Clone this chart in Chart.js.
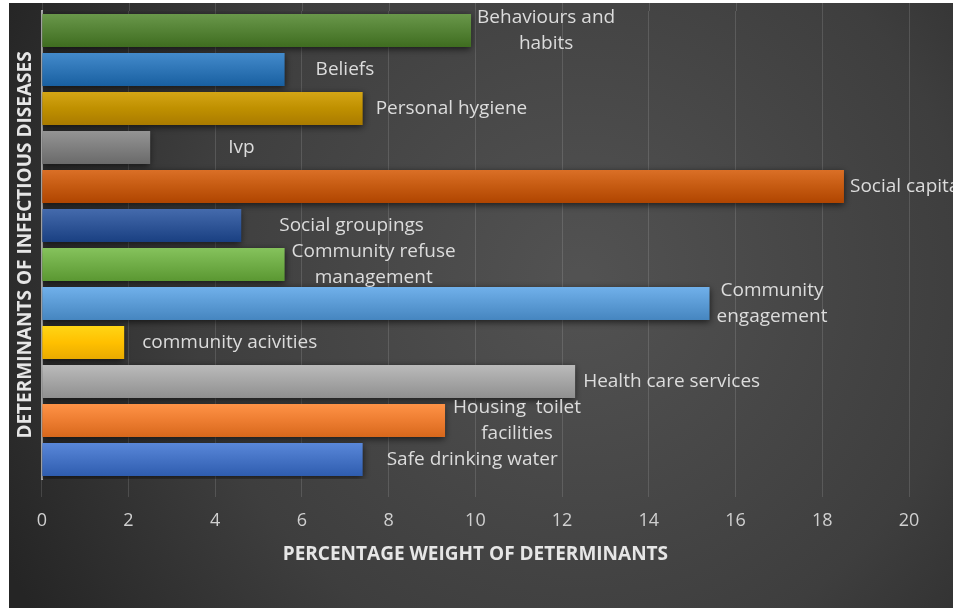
<!DOCTYPE html>
<html>
<head>
<meta charset="utf-8">
<script src="https://cdn.jsdelivr.net/npm/chart.js@4.4.1/dist/chart.umd.min.js"></script>
<style>
  html, body { margin: 0; padding: 0; background: #fff; }
</style>
</head>
<body>
<canvas id="chart" width="953" height="615"></canvas>
<script>
// determinants, top to bottom as in the figure
const determinants = [
  ['Behaviours and', 'habits'],
  'Beliefs',
  'Personal hygiene',
  'Ivp',
  'Social capital',
  'Social groupings',
  ['Community refuse', 'management'],
  ['Community', 'engagement'],
  'community acivities',
  'Health care services',
  ['Housing  toilet', 'facilities'],
  'Safe drinking water'
];
const weights = [9.9, 5.6, 7.4, 2.5, 18.5, 4.6, 5.6, 15.4, 1.9, 12.3, 9.3, 7.4];
const xTickValues = [0, 2, 4, 6, 8, 10, 12, 14, 16, 18, 20];

const barColors = [
  '#548235', '#2e75b6', '#bf9000', '#7f7f7f', '#c55a11', '#2f5597',
  '#70ad47', '#5b9bd5', '#ffc000', '#a5a5a5', '#ed7d31', '#4472c4'
];
// gap between bar end and its label (labels were placed by hand in the original)
const labelGap = [6, 31, 13, 78, 6, 38, 7, 7, 18, 8, 8, 24];

const FONT = "'Open Sans', 'DejaVu Sans', sans-serif";

function shade(hex, amt) {
  const n = parseInt(hex.slice(1), 16);
  const f = c => Math.max(0, Math.min(255, Math.round(c + amt)));
  return `rgb(${f(n >> 16)},${f((n >> 8) & 255)},${f(n & 255)})`;
}

const backdrop = {
  id: 'backdrop',
  beforeDraw(chart) {
    const { ctx, width, height } = chart;
    ctx.save();
    ctx.fillStyle = '#ffffff';
    ctx.fillRect(0, 0, width, height);
    const g = ctx.createRadialGradient(580, 280, 10, 580, 280, 640);
    g.addColorStop(0, '#525252');
    g.addColorStop(0.6, '#3e3e3e');
    g.addColorStop(1, '#252525');
    ctx.fillStyle = g;
    ctx.fillRect(9, 3, width - 9, 605);
    ctx.restore();
  },
  beforeDatasetsDraw(chart) {
    // grid lines run a little above the plot area
    const { ctx, chartArea, scales } = chart;
    ctx.save();
    ctx.strokeStyle = 'rgba(255,255,255,0.13)';
    ctx.lineWidth = 1;
    xTickValues.forEach(v => {
      const x = Math.round(scales.x.getPixelForValue(v)) + 0.5;
      ctx.beginPath();
      ctx.moveTo(x, 3);
      ctx.lineTo(x, chartArea.top);
      ctx.stroke();
    });
    // soft shadow under the bars
    ctx.shadowColor = 'rgba(0,0,0,0.65)';
    ctx.shadowBlur = 7;
    ctx.shadowOffsetY = 2;
  },
  afterDatasetsDraw(chart) {
    chart.ctx.restore();
    const { ctx } = chart;
    const meta = chart.getDatasetMeta(0);
    ctx.save();
    ctx.font = `19px ${FONT}`;
    ctx.fillStyle = '#dcdcdc';
    ctx.textBaseline = 'middle';
    meta.data.forEach((bar, i) => {
      const text = determinants[i];
      const left = bar.x + labelGap[i];
      if (Array.isArray(text)) {
        const w = Math.max(...text.map(t => ctx.measureText(t).width));
        ctx.textAlign = 'center';
        const lh = 26;
        const y0 = bar.y - (text.length - 1) * lh / 2;
        text.forEach((t, k) => ctx.fillText(t, left + w / 2, y0 + k * lh));
      } else {
        ctx.textAlign = 'left';
        ctx.fillText(text, left, bar.y);
      }
    });
    ctx.restore();
  }
};

const ctx = document.getElementById('chart').getContext('2d');
new Chart(ctx, {
  type: 'bar',
  data: {
    labels: determinants.map(d => Array.isArray(d) ? d.join(' ') : d),
    datasets: [{
      data: weights,
      backgroundColor: (c) => {
        const base = barColors[c.dataIndex];
        const chart = c.chart;
        if (!chart.chartArea || !chart.scales.y) return base;
        const y = chart.scales.y.getPixelForValue(c.dataIndex);
        const g = chart.ctx.createLinearGradient(0, y - 17, 0, y + 17);
        g.addColorStop(0, shade(base, 22));
        g.addColorStop(0.5, base);
        g.addColorStop(1, shade(base, -22));
        return g;
      },
      borderWidth: 0,
      barPercentage: 0.84,
      categoryPercentage: 1
    }]
  },
  options: {
    indexAxis: 'y',
    responsive: false,
    animation: false,
    layout: { padding: { top: 11, left: 14, right: 44, bottom: 51 } },
    plugins: {
      legend: { display: false },
      tooltip: { enabled: false }
    },
    scales: {
      x: {
        min: 0,
        max: 20,
        ticks: {
          stepSize: 2,
          color: '#d0d0d0',
          padding: 15,
          font: { family: FONT, size: 18, lineHeight: 1 }
        },
        grid: {
          color: 'rgba(255,255,255,0.13)',
          tickLength: 18,
          tickColor: 'rgba(255,255,255,0.13)'
        },
        border: { display: false },
        title: {
          display: true,
          text: 'PERCENTAGE WEIGHT OF DETERMINANTS',
          color: '#e6e6e6',
          font: { family: FONT, size: 19, weight: 'bold', lineHeight: 1 },
          padding: { top: 0, bottom: 0 }
        }
      },
      y: {
        ticks: { display: false },
        grid: { display: false, drawTicks: false },
        border: { display: true, color: '#a8a8a8', width: 2 },
        title: {
          display: true,
          text: 'DETERMINANTS OF INFECTIOUS DISEASES',
          color: '#e6e6e6',
          font: { family: FONT, size: 19, weight: 'bold' },
          padding: { top: 0, bottom: 5 }
        }
      }
    }
  },
  plugins: [backdrop]
});
</script>
</body>
</html>
